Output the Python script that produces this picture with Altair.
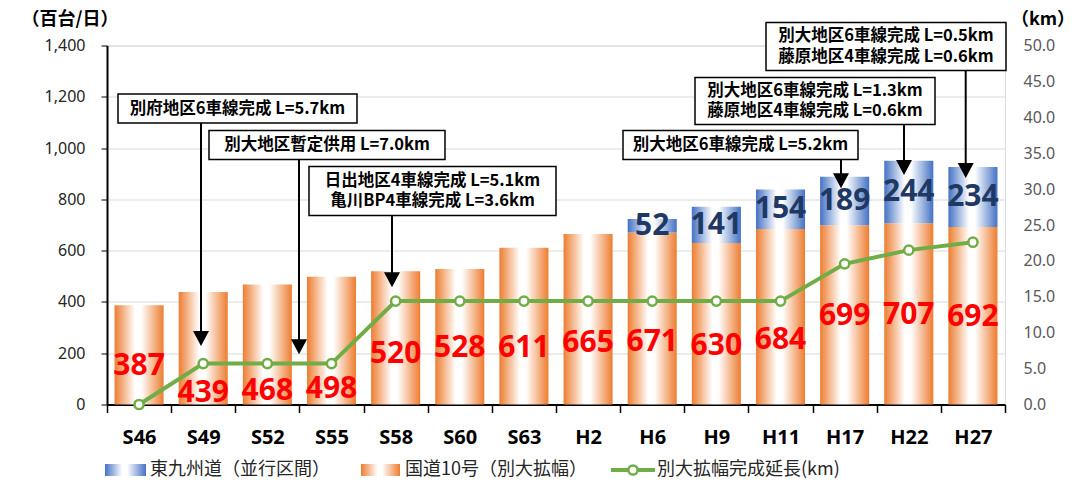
import altair as alt
import pandas as pd

# ---------------- data ----------------
years = ["S46", "S49", "S52", "S55", "S58", "S60", "S63", "H2", "H6", "H9", "H11", "H17", "H22", "H27"]
route10 = [387, 439, 468, 498, 520, 528, 611, 665, 671, 630, 684, 699, 707, 692]
expressway = [0, 0, 0, 0, 0, 0, 0, 0, 52, 141, 154, 189, 244, 234]
completed_km = [0.0, 5.7, 5.7, 5.7, 14.4, 14.4, 14.4, 14.4, 14.4, 14.4, 14.4, 19.6, 21.5, 22.6]
route10_label_at = [151, 46, 54, 59, 197, 222, 222, 241, 245, 229, 250, 345, 348, 340]

series_names = ["東九州道（並行区間）", "国道10号（別大拡幅）", "別大拡幅完成延長(km)"]

ann_lines = [
    ["別府地区6車線完成 L=5.7km"],
    ["別大地区暫定供用 L=7.0km"],
    ["日出地区4車線完成 L=5.1km", "亀川BP4車線完成 L=3.6km"],
    ["別大地区6車線完成 L=5.2km"],
    ["別大地区6車線完成 L=1.3km", "藤原地区4車線完成 L=0.6km"],
    ["別大地区6車線完成 L=0.5km", "藤原地区4車線完成 L=0.6km"],
]

# ---------------- layout (pixels) ----------------
W, H = 898, 359
# annotation boxes in plot-pixel coordinates: x0, x1, y0, y1
ann_box = [
    (11, 250, 48.5, 77.5),
    (102, 338, 85, 114),
    (202, 449, 121, 170),
    (516, 751, 85, 114),
    (588, 828, 32, 79),
    (659, 899, -23, 25),
]
ann_arrow_x = [94, 192, 285, 734, 797, 858.7]
ann_arrow_tip = [300.5, 308.8, 241.8, 142.8, 129.5, 132.5]

ORANGE = "#ED7D31"
BLUE = "#4472C4"
GREEN = "#70AD47"
NUM_FONT = "Noto Sans"
JP_FONT = "Noto Sans CJK JP"

df = pd.DataFrame({
    "year": years,
    "route10": route10,
    "expressway": expressway,
    "km": completed_km,
    "label_at": route10_label_at,
})
df["total"] = df["route10"] + df["expressway"]
df["mid"] = df["route10"] + df["expressway"] / 2

def grad(c):
    return alt.Gradient(
        gradient="linear",
        stops=[alt.GradientStop(color=c, offset=0),
               alt.GradientStop(color="#FFFFFF", offset=0.42),
               alt.GradientStop(color="#FFFFFF", offset=0.54),
               alt.GradientStop(color=c, offset=1)],
        x1=0, x2=1, y1=0, y2=0,
    )

xaxis = alt.Axis(
    title=None, tickBand="extent", domainColor="black", domainWidth=2,
    tickColor="black", tickSize=8, tickWidth=1.5, labelAngle=0,
    labelFont=NUM_FONT, labelFontWeight="bold", labelFontSize=20, labelColor="black",
    labelBaseline="middle", labelPadding=25, grid=False,
)
X = alt.X("year:N", sort=years, scale=alt.Scale(paddingInner=0, paddingOuter=0), axis=xaxis)

yaxis = alt.Axis(
    title=None, values=list(range(0, 1401, 200)), format=",.0f", grid=True,
    gridColor="#D9D9D9", gridWidth=1, domainColor="black", domainWidth=2,
    tickColor="black", tickSize=6, labelFont=NUM_FONT, labelFontSize=16,
    labelColor="#262626", labelPadding=16,
)
yscale = alt.Scale(domain=[0, 1400], nice=False)

def Y(f):
    return alt.Y(f, scale=yscale, axis=yaxis)

base = alt.Chart(df)
orange_bars = base.mark_bar(color=grad(ORANGE), width=alt.RelativeBandSize(0.765)).encode(
    x=X, y=Y("route10:Q"))
blue_bars = base.transform_filter("datum.expressway > 0").mark_bar(
    color=grad(BLUE), width=alt.RelativeBandSize(0.765)).encode(
    x=X, y=Y("route10:Q"), y2="total:Q")
red_text = base.mark_text(font=NUM_FONT, fontWeight="bold", fontSize=30, color="#FF0000",
                          baseline="middle").encode(x=X, y=Y("label_at:Q"), text="route10:Q")
blue_text = base.transform_filter("datum.expressway > 0").mark_text(
    font=NUM_FONT, fontWeight="bold", fontSize=30, color="#1F3864", baseline="middle").encode(
    x=X, y=Y("mid:Q"), text="expressway:Q")
left = alt.layer(orange_bars, blue_bars, red_text, blue_text)

kmaxis = alt.Axis(
    orient="right", title=None, values=list(range(0, 51, 5)), format=".1f", grid=False,
    domain=False, ticks=False, labelFont=NUM_FONT, labelFontSize=16, labelColor="#595959",
    labelPadding=18,
)
YK = alt.Y("km:Q", scale=alt.Scale(domain=[0, 50], nice=False), axis=kmaxis)
km_line = base.mark_line(color=GREEN, strokeWidth=4).encode(x=X, y=YK)
km_pts = base.mark_point(filled=True, fill="white", stroke=GREEN, strokeWidth=2.5, size=85,
                         opacity=1).encode(x=X, y=YK)
right = alt.layer(km_line, km_pts)

main = alt.layer(left, right).resolve_scale(y="independent")

# ---------------- annotations (pixel space) ----------------
PXs = alt.Scale(domain=[0, W], range=[0, W], nice=False, zero=False)
PYs = alt.Scale(domain=[0, H], range=[0, H], nice=False, zero=False)

def PX(f):
    return alt.X(f, scale=PXs, axis=None)

def PY(f):
    return alt.Y(f, scale=PYs, axis=None)

box_df = pd.DataFrame(ann_box, columns=["x0", "x1", "y0", "y1"])
txt_rows = []
for (x0, x1, y0, y1), lines in zip(ann_box, ann_lines):
    n = len(lines)
    lh = 20.5
    cy = (y0 + y1) / 2
    for i, t in enumerate(lines):
        txt_rows.append({"x": (x0 + x1) / 2, "y": cy + (i - (n - 1) / 2) * lh, "t": t})
txt_df = pd.DataFrame(txt_rows)
arr_df = pd.DataFrame({
    "x": ann_arrow_x,
    "ya": [b[3] for b in ann_box],
    "yb": [t - 12 for t in ann_arrow_tip],
    "yh": [t - 7.5 for t in ann_arrow_tip],
})

boxes = alt.Chart(box_df).mark_rect(fill="white", stroke="black", strokeWidth=1.5).encode(
    x=PX("x0:Q"), x2="x1:Q", y=PY("y0:Q"), y2="y1:Q")
box_text = alt.Chart(txt_df).mark_text(font=JP_FONT, fontWeight="bold", fontSize=16.5,
                                        color="black", baseline="middle").encode(
    x=PX("x:Q"), y=PY("y:Q"), text="t:N")
arrows = alt.Chart(arr_df).mark_rule(color="black", strokeWidth=2).encode(
    x=PX("x:Q"), y=PY("ya:Q"), y2="yb:Q")
heads = alt.Chart(arr_df).mark_point(shape="M-1,-0.94L1,-0.94L0,0.94Z", filled=True,
                                     color="black", size=256, opacity=1, strokeWidth=0).encode(
    x=PX("x:Q"), y=PY("yh:Q"))

# axis unit titles
titles_df = pd.DataFrame({"x": [-37, 936], "y": [-25.5, -25.5], "t": ["（百台/日）", "（km）"]})
titles = alt.Chart(titles_df).mark_text(font=JP_FONT, fontWeight="bold", fontSize=18,
                                         color="black", baseline="middle").encode(
    x=PX("x:Q"), y=PY("y:Q"), text="t:N")

# legend
leg_y = 424.5
sw_df_b = pd.DataFrame({"x0": [-2], "x1": [39], "y0": [leg_y - 6], "y1": [leg_y + 6]})
sw_df_o = pd.DataFrame({"x0": [254], "x1": [293], "y0": [leg_y - 6], "y1": [leg_y + 6]})
sw_b = alt.Chart(sw_df_b).mark_rect(fill=grad(BLUE)).encode(
    x=PX("x0:Q"), x2="x1:Q", y=PY("y0:Q"), y2="y1:Q")
sw_o = alt.Chart(sw_df_o).mark_rect(fill=grad(ORANGE)).encode(
    x=PX("x0:Q"), x2="x1:Q", y=PY("y0:Q"), y2="y1:Q")
gl_df = pd.DataFrame({"x0": [504], "x1": [548], "xc": [526], "y": [leg_y]})
gl_line = alt.Chart(gl_df).mark_rule(color=GREEN, strokeWidth=4).encode(
    x=PX("x0:Q"), x2="x1:Q", y=PY("y:Q"))
gl_pt = alt.Chart(gl_df).mark_point(filled=True, fill="white", stroke=GREEN, strokeWidth=2.5,
                                    size=85, opacity=1).encode(x=PX("xc:Q"), y=PY("y:Q"))
leg_txt_df = pd.DataFrame({"x": [43, 298, 550], "y": [leg_y] * 3, "t": series_names})
leg_txt = alt.Chart(leg_txt_df).mark_text(font=JP_FONT, fontSize=18, color="#262626",
                                          align="left", baseline="middle").encode(
    x=PX("x:Q"), y=PY("y:Q"), text="t:N")

annot = alt.layer(boxes, box_text, arrows, heads, titles, sw_b, sw_o, gl_line, gl_pt, leg_txt)

chart = alt.layer(main, annot).resolve_scale(x="independent", y="independent").properties(
    width=W, height=H,
    autosize=alt.AutoSizeParams(type="none"),
    padding={"left": 99, "top": 37.5, "right": 60, "bottom": 75},
).configure_view(stroke=None).configure(background="white")

chart.save("out.html", embed_options={"renderer": "svg", "actions": False})
